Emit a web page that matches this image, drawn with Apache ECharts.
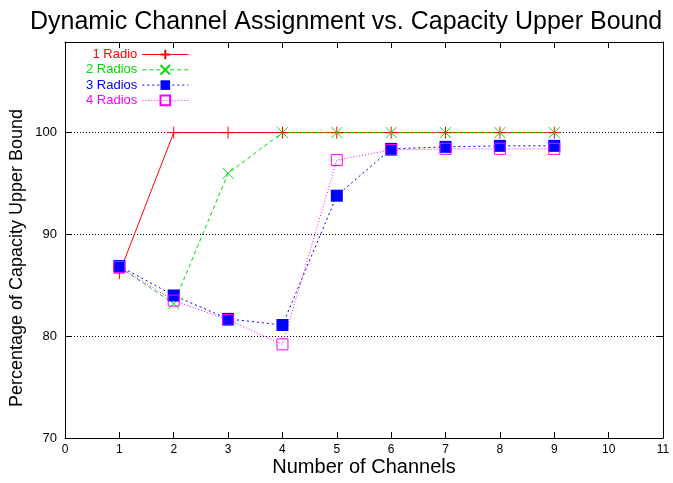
<!DOCTYPE html>
<html>
<head>
<meta charset="utf-8">
<script src="https://cdn.jsdelivr.net/npm/echarts@6/dist/echarts.min.js"></script>
<style>
html,body{margin:0;padding:0;background:#fff;}
#chart{width:673px;height:483px;}
</style>
</head>
<body>
<div id="chart"></div>
<script>
// Channel counts on the x axis
const channels = [1, 2, 3, 4, 5, 6, 7, 8, 9];
// Percentage of the capacity upper bound reached, per number of radios
const radio1 = [86.2, 100, 100, 100, 100, 100, 100, 100, 100];
const radio2 = [86.8, 83.2, 96.0, 100, 100, 100, 100, 100, 100];
const radio3 = [86.9, 84.0, 81.7, 81.1, 93.8, 98.4, 98.6, 98.7, 98.7];
const radio4 = [86.8, 83.5, 81.6, 79.2, 97.3, 98.3, 98.4, 98.4, 98.4];
const seriesNames = ['1 Radio', '2 Radios', '3 Radios', '4 Radios'];
const seriesColors = ['#ff0000', '#00dd00', '#0000ff', '#ff00ff'];
// Y tick labels that are printed
const yTickLabels = [70, 80, 90, 100];

const FONT = 'Liberation Sans, Arial, sans-serif';
const pairs = vals => channels.map((c, i) => [c, vals[i]]);

const plusPath = 'path://M0,5L10,5M5,0L5,10';
const crossPath = 'path://M0,0L10,10M10,0L0,10';

const chart = echarts.init(document.getElementById('chart'), null, {renderer: 'canvas'});

const axisCommon = {
  axisLine: {show: true, onZero: false, lineStyle: {color: '#000', width: 1}},
  axisTick: {show: true, inside: true, length: 6, lineStyle: {color: '#000', width: 1}},
};

chart.setOption({
  animation: false,
  backgroundColor: '#fff',
  title: {
    text: 'Dynamic Channel Assignment vs. Capacity Upper Bound',
    left: 25,
    top: 5,
    textStyle: {fontFamily: FONT, fontWeight: 'normal', fontSize: 25, color: '#000'}
  },
  grid: {left: 65, right: 10, top: 42, bottom: 45},
  graphic: [{
    type: 'text',
    x: 17, y: 258,
    rotation: Math.PI / 2,
    style: {
      text: 'Percentage of Capacity Upper Bound',
      font: '18px ' + FONT,
      fill: '#000',
      align: 'center',
      verticalAlign: 'middle'
    }
  }, {
    type: 'text',
    x: 364, y: 467,
    style: {
      text: 'Number of Channels',
      font: '20px ' + FONT,
      fill: '#000',
      align: 'center',
      verticalAlign: 'middle'
    }
  }],
  legend: {
    orient: 'vertical',
    left: 81,
    top: 43,
    align: 'right',
    itemWidth: 46,
    itemHeight: 12,
    itemGap: 2.3,
    lineStyle: {width: 1},
    textStyle: {fontFamily: FONT, fontSize: 13, lineHeight: 12},
    data: seriesNames.map((n, i) => ({name: n, textStyle: {color: seriesColors[i]}}))
  },
  xAxis: [{
    type: 'value', min: 0, max: 11, interval: 1,
    axisLabel: {fontFamily: FONT, fontSize: 12, color: '#000', margin: 6},
    splitLine: {show: false},
    ...axisCommon
  }, {
    type: 'value', min: 0, max: 11, interval: 1, position: 'top',
    axisLabel: {show: false}, splitLine: {show: false},
    ...axisCommon
  }],
  yAxis: [{
    type: 'value', min: 70, max: 108.9, interval: 10,
    axisLabel: {fontFamily: FONT, fontSize: 13, color: '#000', margin: 8,
      formatter: v => (yTickLabels.includes(v) ? String(v) : '')},
    splitLine: {show: true, lineStyle: {color: '#000', type: [1, 2], width: 1}},
    ...axisCommon
  }, {
    type: 'value', min: 70, max: 108.9, interval: 10, position: 'right',
    axisLabel: {show: false}, splitLine: {show: false},
    ...axisCommon
  }],
  series: [
    {
      name: seriesNames[0], type: 'line', data: pairs(radio1),
      symbol: plusPath, symbolSize: 12,
      itemStyle: {color: seriesColors[0], borderColor: seriesColors[0], borderWidth: 1},
      lineStyle: {color: seriesColors[0], width: 1, type: 'solid'}
    },
    {
      name: seriesNames[1], type: 'line', data: pairs(radio2),
      symbol: crossPath, symbolSize: 11,
      itemStyle: {color: seriesColors[1], borderColor: seriesColors[1], borderWidth: 1},
      lineStyle: {color: seriesColors[1], width: 1, type: [4, 3]}
    },
    {
      name: seriesNames[2], type: 'line', data: pairs(radio3),
      symbol: 'rect', symbolSize: 12,
      itemStyle: {color: seriesColors[2], borderColor: seriesColors[2], borderWidth: 0},
      lineStyle: {color: seriesColors[2], width: 1, type: [2, 3]}
    },
    {
      name: seriesNames[3], type: 'line', data: pairs(radio4),
      symbol: 'rect', symbolSize: 11,
      itemStyle: {color: 'rgba(0,0,0,0)', borderColor: seriesColors[3], borderWidth: 1},
      lineStyle: {color: seriesColors[3], width: 1, type: [1, 2]}
    }
  ]
});
</script>
</body>
</html>
